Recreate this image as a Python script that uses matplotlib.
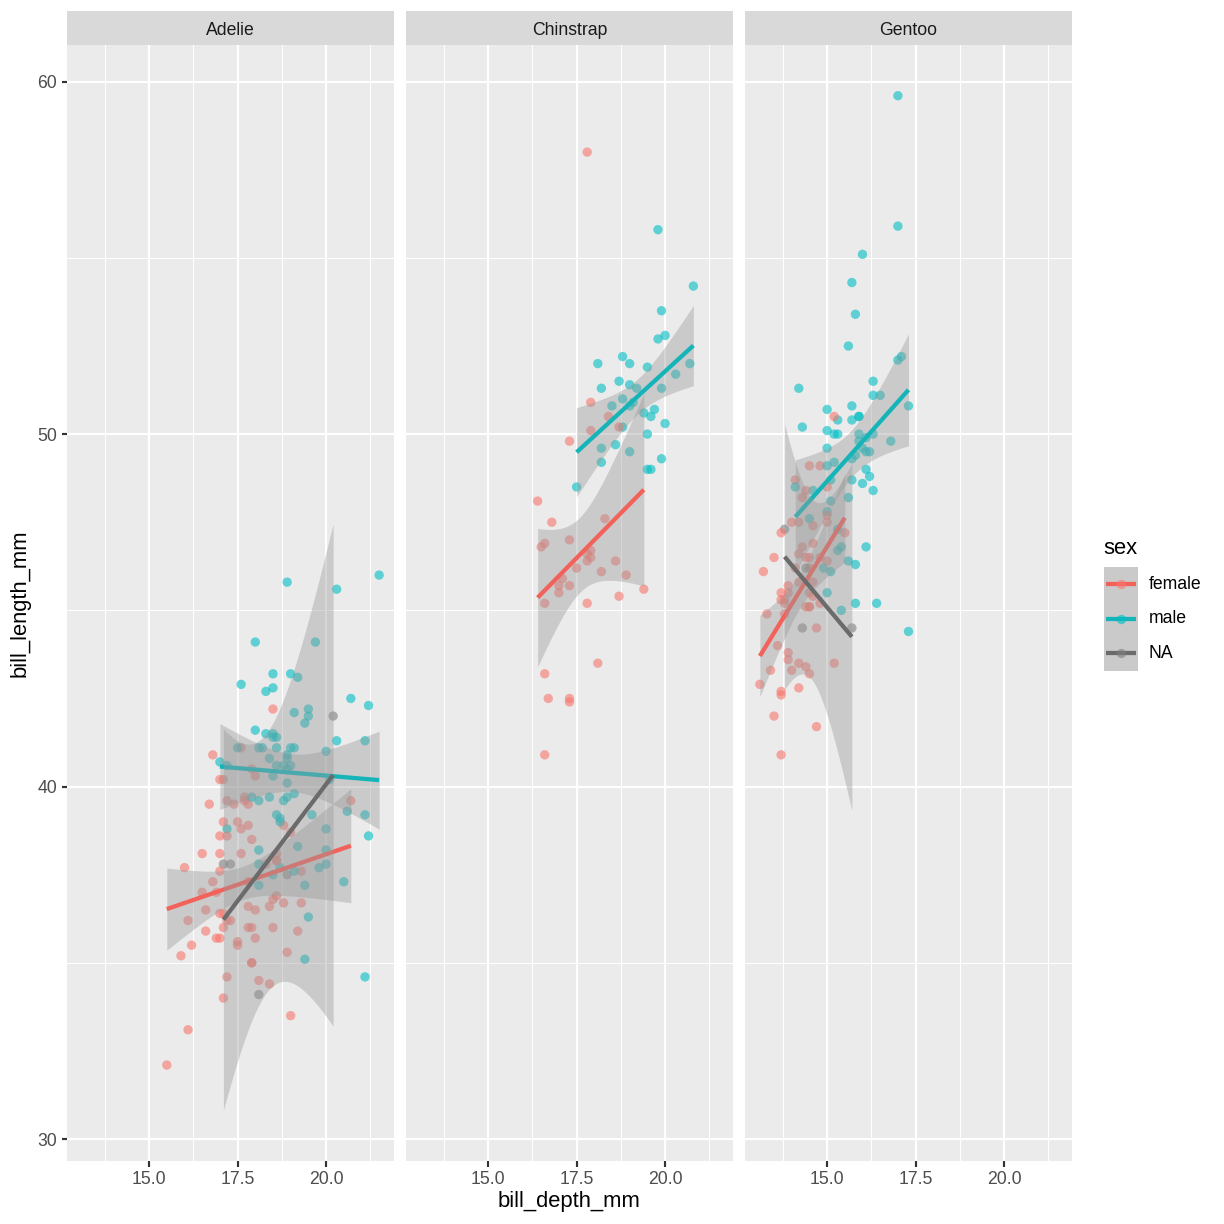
import numpy as np
import matplotlib
matplotlib.use("Agg")
import matplotlib.pyplot as plt
from matplotlib.patches import Rectangle
from math import gamma, pi, sqrt

plt.rcParams['font.family'] = ['Liberation Sans', 'DejaVu Sans']

# penguins data, one list per species (row order as in the data set)
species = ["Adelie", "Chinstrap", "Gentoo"]

adelie_length = [39.1, 39.5, 40.3, 36.7, 39.3, 38.9, 39.2, 34.1, 42.0, 37.8,
                 37.8, 41.1, 38.6, 34.6, 36.6, 38.7, 42.5, 34.4, 46.0, 37.8,
                 37.7, 35.9, 38.2, 38.8, 35.3, 40.6, 40.5, 37.9, 40.5, 39.5,
                 37.2, 39.5, 40.9, 36.4, 39.2, 38.8, 42.2, 37.6, 39.8, 36.5,
                 40.8, 36.0, 44.1, 37.0, 39.6, 41.1, 37.5, 36.0, 42.3, 39.6,
                 40.1, 35.0, 42.0, 34.5, 41.4, 39.0, 40.6, 36.5, 37.6, 35.7,
                 41.3, 37.6, 41.1, 36.4, 41.6, 35.5, 41.1, 35.9, 41.8, 33.5,
                 39.7, 39.6, 45.8, 35.5, 42.8, 40.9, 37.2, 36.2, 42.1, 34.6,
                 42.9, 36.7, 35.1, 37.3, 41.3, 36.3, 36.9, 38.3, 38.9, 35.7,
                 41.1, 34.0, 39.6, 36.2, 40.8, 38.1, 40.3, 33.1, 43.2, 35.0,
                 41.0, 37.7, 37.8, 37.9, 39.7, 38.6, 38.2, 38.1, 43.2, 38.1,
                 45.6, 39.7, 42.2, 39.6, 42.7, 38.6, 37.3, 35.7, 41.1, 36.2,
                 37.7, 40.2, 41.4, 35.2, 40.6, 38.8, 41.5, 39.0, 44.1, 38.5,
                 43.1, 36.8, 37.5, 38.1, 41.1, 35.6, 40.2, 37.0, 39.7, 40.2,
                 40.6, 32.1, 40.7, 37.3, 39.0, 39.2, 36.6, 36.0, 37.8, 36.0, 41.5]
adelie_depth = [18.7, 17.4, 18.0, 19.3, 20.6, 17.8, 19.6, 18.1, 20.2, 17.1,
                17.3, 17.6, 21.2, 21.1, 17.8, 19.0, 20.7, 18.4, 21.5, 18.3,
                18.7, 19.2, 18.1, 17.2, 18.9, 18.6, 17.9, 18.6, 18.9, 16.7,
                18.1, 17.8, 18.9, 17.0, 21.1, 20.0, 18.5, 19.3, 19.1, 18.0,
                18.4, 18.5, 19.7, 16.9, 18.8, 19.0, 18.9, 17.9, 21.2, 17.7,
                18.9, 17.9, 19.5, 18.1, 18.6, 17.5, 18.8, 16.6, 19.1, 16.9,
                21.1, 17.0, 18.2, 17.1, 18.0, 16.2, 19.1, 16.6, 19.4, 19.0,
                18.4, 17.2, 18.9, 17.5, 18.5, 16.8, 19.4, 16.1, 19.1, 17.2,
                17.6, 18.8, 19.4, 17.8, 20.3, 19.5, 18.6, 19.2, 18.8, 18.0,
                18.1, 17.1, 18.1, 17.3, 18.9, 18.6, 18.5, 16.1, 18.5, 17.9,
                20.0, 16.0, 20.0, 18.6, 18.9, 17.2, 20.0, 17.0, 19.0, 16.5,
                20.3, 17.7, 19.5, 20.7, 18.3, 17.0, 20.5, 17.0, 18.6, 17.2,
                19.8, 17.0, 18.5, 15.9, 19.0, 17.6, 18.3, 17.1, 18.0, 17.9,
                19.2, 18.5, 18.5, 17.6, 17.5, 17.5, 20.1, 16.5, 17.9, 17.1,
                17.2, 15.5, 17.0, 16.8, 18.7, 18.6, 18.4, 17.8, 18.1, 17.1, 18.5]
# F = female, M = male, N = NA
adelie_sex = ("MFF" "FMFM" "NNNN" "FMMFFMFM" "FMFMMFMFFM" "FMFMFMMFFM"
              "FMFMFMMNFM" "FMFMFMFMFM" "FMFMFMFMFM" "FMFMFMFMFM" "FMFMFMMFMF"
              "FMFMFMFMFM" "FMFMFMFMFM" "FMFMFMFMFM" "FMFMFMFMFM" "FMFMFMFMFM"
              "FMFMFMMFFM" "FM")

chinstrap_length = [46.5, 50.0, 51.3, 45.4, 52.7, 45.2, 46.1, 51.3, 46.0, 51.3,
                    46.6, 51.7, 47.0, 52.0, 45.9, 50.5, 50.3, 58.0, 46.4, 49.2,
                    42.4, 48.5, 43.2, 50.6, 46.7, 52.0, 50.5, 49.5, 46.4, 52.8,
                    40.9, 54.2, 42.5, 51.0, 49.7, 47.5, 47.6, 52.0, 46.9, 53.5,
                    49.0, 46.2, 50.9, 45.5, 50.9, 50.8, 50.1, 49.0, 51.5, 49.8,
                    48.1, 51.4, 45.7, 50.7, 42.5, 52.2, 45.2, 49.3, 50.2, 45.6,
                    51.9, 46.8, 45.7, 55.8, 43.5, 49.6, 50.8, 50.2]
chinstrap_depth = [17.9, 19.5, 19.2, 18.7, 19.8, 17.8, 18.2, 18.2, 18.9, 19.9,
                   17.8, 20.3, 17.3, 18.1, 17.1, 19.6, 20.0, 17.8, 18.6, 18.2,
                   17.3, 17.5, 16.6, 19.4, 17.9, 19.0, 18.4, 19.0, 17.8, 20.0,
                   16.6, 20.8, 16.7, 18.8, 18.6, 16.8, 18.3, 20.7, 16.6, 19.9,
                   19.5, 17.5, 19.1, 17.0, 17.9, 18.5, 17.9, 19.6, 18.7, 17.3,
                   16.4, 19.0, 17.3, 19.7, 17.3, 18.8, 16.6, 19.9, 18.8, 19.4,
                   19.5, 16.5, 17.0, 19.8, 18.1, 18.2, 19.0, 18.7]
chinstrap_sex = ("FMMFMFFMFM" "FMFMFMMFFM" "FMFMFMFMFM" "FMFMMFFMFM"
                 "MFMFFMFMMF" "FMFMFMFMMF" "MFFMFMMF")

gentoo_length = [46.1, 50.0, 48.7, 50.0, 47.6, 46.5, 45.4, 46.7, 43.3, 46.8,
                 40.9, 49.0, 45.5, 48.4, 45.8, 49.3, 42.0, 49.2, 46.2, 48.7,
                 50.2, 45.1, 46.5, 46.3, 42.9, 46.1, 44.5, 47.8, 48.2, 50.0,
                 47.3, 42.8, 45.1, 59.6, 49.1, 48.4, 42.6, 44.4, 44.0, 48.7,
                 42.7, 49.6, 45.3, 49.6, 50.5, 43.6, 45.5, 50.5, 44.9, 45.2,
                 46.6, 48.5, 45.1, 50.1, 46.5, 45.0, 43.8, 45.5, 43.2, 50.4,
                 45.3, 46.2, 45.7, 54.3, 45.8, 49.8, 46.2, 49.5, 43.5, 50.7,
                 47.7, 46.4, 48.2, 46.5, 46.4, 48.6, 47.5, 51.1, 45.2, 45.2,
                 49.1, 52.5, 47.4, 50.0, 44.9, 50.8, 43.4, 51.3, 47.5, 52.1,
                 47.5, 52.2, 45.5, 49.5, 44.5, 50.8, 49.4, 46.9, 48.4, 51.1,
                 48.5, 55.9, 47.2, 49.1, 47.3, 46.8, 41.7, 53.4, 43.3, 48.1,
                 50.5, 49.8, 43.5, 51.5, 46.2, 55.1, 44.5, 48.8, 47.2, 46.8,
                 50.4, 45.2, 49.9]
gentoo_depth = [13.2, 16.3, 14.1, 15.2, 14.5, 13.5, 14.6, 15.3, 13.4, 15.4,
                13.7, 16.1, 13.7, 14.6, 14.6, 15.7, 13.5, 15.2, 14.5, 15.1,
                14.3, 14.5, 14.5, 15.8, 13.1, 15.1, 14.3, 15.0, 14.3, 15.3,
                15.3, 14.2, 14.5, 17.0, 14.8, 16.3, 13.7, 17.3, 13.6, 15.7,
                13.7, 16.0, 13.7, 15.0, 15.9, 13.9, 13.9, 15.9, 13.3, 15.8,
                14.2, 14.1, 14.4, 15.0, 14.4, 15.4, 13.9, 15.0, 14.5, 15.3,
                13.8, 14.9, 13.9, 15.7, 14.2, 16.8, 14.4, 16.2, 14.2, 15.0,
                15.0, 15.6, 15.6, 14.8, 15.0, 16.0, 14.2, 16.3, 13.8, 16.4,
                14.5, 15.6, 14.6, 15.9, 13.8, 17.3, 14.4, 14.2, 14.0, 17.0,
                15.0, 17.1, 14.5, 16.1, 14.7, 15.7, 15.8, 14.6, 14.4, 16.5,
                15.0, 17.0, 15.5, 15.0, 13.8, 16.1, 14.7, 15.8, 14.0, 15.1,
                15.2, 15.9, 15.2, 16.3, 14.1, 16.0, 15.7, 16.2, 13.7, 14.3,
                15.7, 14.8, 16.1]
gentoo_sex = ("FMFMMFFMFM" "FMFMFMFMFM" "MFFMFMNMFM" "MFFMFMFMFM"
              "FMFMMFFMFM" "FMFMFMFMFM" "FMFMFMNMFM" "FMMFFMFMFM"
              "FMFMFMFMFM" "FMFMFMMFFM" "FMFMNMFMFM" "FMFMFMNMF" "FMFM")

sex_levels = ["F", "M", "N"]
sex_labels = ["female", "male", "NA"]
sex_colors = {"F": "#F8766D", "M": "#00BFC4", "N": "#7F7F7F"}
line_colors = {"F": "#F2615A", "M": "#14B4B9", "N": "#6B6B6B"}

panels = {
    "Adelie": (adelie_depth, adelie_length, adelie_sex),
    "Chinstrap": (chinstrap_depth, chinstrap_length, chinstrap_sex),
    "Gentoo": (gentoo_depth, gentoo_length, gentoo_sex),
}


def t_quantile(p, df):
    # student t quantile by bisection on a numerically integrated cdf
    c = gamma((df + 1) / 2) / (sqrt(df * pi) * gamma(df / 2))

    def cdf(t):
        xs = np.linspace(0, t, 4001)
        return 0.5 + np.trapezoid(c * (1 + xs ** 2 / df) ** (-(df + 1) / 2), xs)

    lo, hi = 0.0, 60.0
    for _ in range(70):
        mid = (lo + hi) / 2
        if cdf(mid) < p:
            lo = mid
        else:
            hi = mid
    return (lo + hi) / 2


def lm_band(x, y):
    # like geom_smooth(method = "lm"): fit + 95% confidence band on 80 points
    x = np.asarray(x)
    y = np.asarray(y)
    n = len(x)
    xbar, ybar = x.mean(), y.mean()
    sxx = ((x - xbar) ** 2).sum()
    b = ((x - xbar) * (y - ybar)).sum() / sxx
    a = ybar - b * xbar
    s = sqrt(((y - a - b * x) ** 2).sum() / (n - 2))
    xs = np.linspace(x.min(), x.max(), 80)
    fit = a + b * xs
    se = s * np.sqrt(1 / n + (xs - xbar) ** 2 / sxx)
    t = t_quantile(0.975, n - 2)
    return xs, fit, fit - t * se, fit + t * se


# fits first, so the y range can include the ribbons (as ggplot does)
fits = {}
all_x, all_y = [], []
for sp in species:
    d, l, s = panels[sp]
    all_x += d
    all_y += l
    for lev in sex_levels:
        idx = [i for i, v in enumerate(s) if v == lev]
        if len(idx) < 3:
            continue
        gx = [d[i] for i in idx]
        gy = [l[i] for i in idx]
        band = lm_band(gx, gy)
        fits[(sp, lev)] = band
        all_y += list(band[2]) + list(band[3])

x0, x1 = min(all_x), max(all_x)
y0, y1 = min(all_y), max(all_y)
xlim = (x0 - 0.05 * (x1 - x0), x1 + 0.05 * (x1 - x0))
ylim = (y0 - 0.05 * (y1 - y0), y1 + 0.05 * (y1 - y0))

W = H = 1224
fig = plt.figure(figsize=(8.5, 8.5), dpi=144)
fig.patch.set_facecolor("white")

panel_left = [67, 406, 745]
panel_w = 327
panel_top, panel_bot = 45, 1161
strip_top = 11
pt_size = 22
pt_alpha = 0.6

for k, sp in enumerate(species):
    left = panel_left[k]
    ax = fig.add_axes([left / W, 1 - panel_bot / H, panel_w / W, (panel_bot - panel_top) / H])
    ax.set_facecolor("#EBEBEB")
    for sp_name in ax.spines:
        ax.spines[sp_name].set_visible(False)
    ax.set_xlim(xlim)
    ax.set_ylim(ylim)
    ax.set_xticks([15.0, 17.5, 20.0])
    ax.set_xticklabels(["15.0", "17.5", "20.0"])
    ax.set_xticks([13.75, 16.25, 18.75, 21.25], minor=True)
    ax.set_yticks([30, 40, 50, 60])
    ax.set_yticks([35, 45, 55], minor=True)
    ax.set_axisbelow(True)
    ax.grid(which="major", color="white", linewidth=1.07)
    ax.grid(which="minor", color="white", linewidth=0.53)
    ax.tick_params(which="major", length=2.75, width=1.07, color="#333333",
                   labelsize=8.8, labelcolor="#4D4D4D", pad=2.2)
    ax.tick_params(which="minor", length=0)
    if k > 0:
        ax.tick_params(axis="y", which="both", left=False, labelleft=False)

    d, l, s = panels[sp]
    ax.scatter(d, l, c=[sex_colors[v] for v in s], s=pt_size, alpha=pt_alpha,
               linewidths=0, zorder=2)

    z = 3
    for lev in sex_levels:
        if (sp, lev) not in fits:
            continue
        xs, fit, lo, hi = fits[(sp, lev)]
        ax.fill_between(xs, lo, hi, color="#999999", alpha=0.4, linewidth=0, zorder=z)
        ax.plot(xs, fit, color=line_colors[lev], linewidth=2.13, zorder=z + 1,
                solid_capstyle="butt")
        z += 2

    # facet strip
    sax = fig.add_axes([left / W, 1 - panel_top / H, panel_w / W, (panel_top - strip_top) / H])
    sax.set_facecolor("#D9D9D9")
    sax.set_xticks([])
    sax.set_yticks([])
    for sp_name in sax.spines:
        sax.spines[sp_name].set_visible(False)
    sax.text(0.5, 0.44, sp, ha="center", va="center", fontsize=8.8, color="#1A1A1A",
             transform=sax.transAxes)

fig.text(569 / W, 1 - 1201 / H, "bill_depth_mm", ha="center", va="center", fontsize=11)
fig.text(20 / W, 1 - 603 / H, "bill_length_mm", ha="center", va="center",
         rotation=90, fontsize=11)

# legend
fig.text(1103 / W, 1 - 548 / H, "sex", ha="left", va="center", fontsize=11)
key_x0, key_x1 = 1104, 1138
key_top, key_h = 567, 34.5
lax = fig.add_axes([key_x0 / W, 1 - (key_top + 3 * key_h) / H,
                    (key_x1 - key_x0) / W, 3 * key_h / H])
lax.set_xlim(0, 1)
lax.set_ylim(3, 0)
lax.axis("off")
for i, lev in enumerate(sex_levels):
    lax.add_patch(Rectangle((0, i), 1, 1, facecolor="#EBEBEB", edgecolor="none"))
    lax.add_patch(Rectangle((0, i), 1, 1, facecolor="#999999", alpha=0.4, edgecolor="none"))
    lax.plot([0.05, 0.95], [i + 0.5, i + 0.5], color=line_colors[lev], linewidth=2.13,
             solid_capstyle="butt")
    lax.scatter([0.5], [i + 0.5], color=sex_colors[lev], s=pt_size, alpha=pt_alpha,
                linewidths=0, zorder=3)
    fig.text(1149 / W, 1 - (key_top + (i + 0.5) * key_h) / H, sex_labels[i],
             ha="left", va="center", fontsize=8.8)

fig.savefig("out.png", dpi=144)
